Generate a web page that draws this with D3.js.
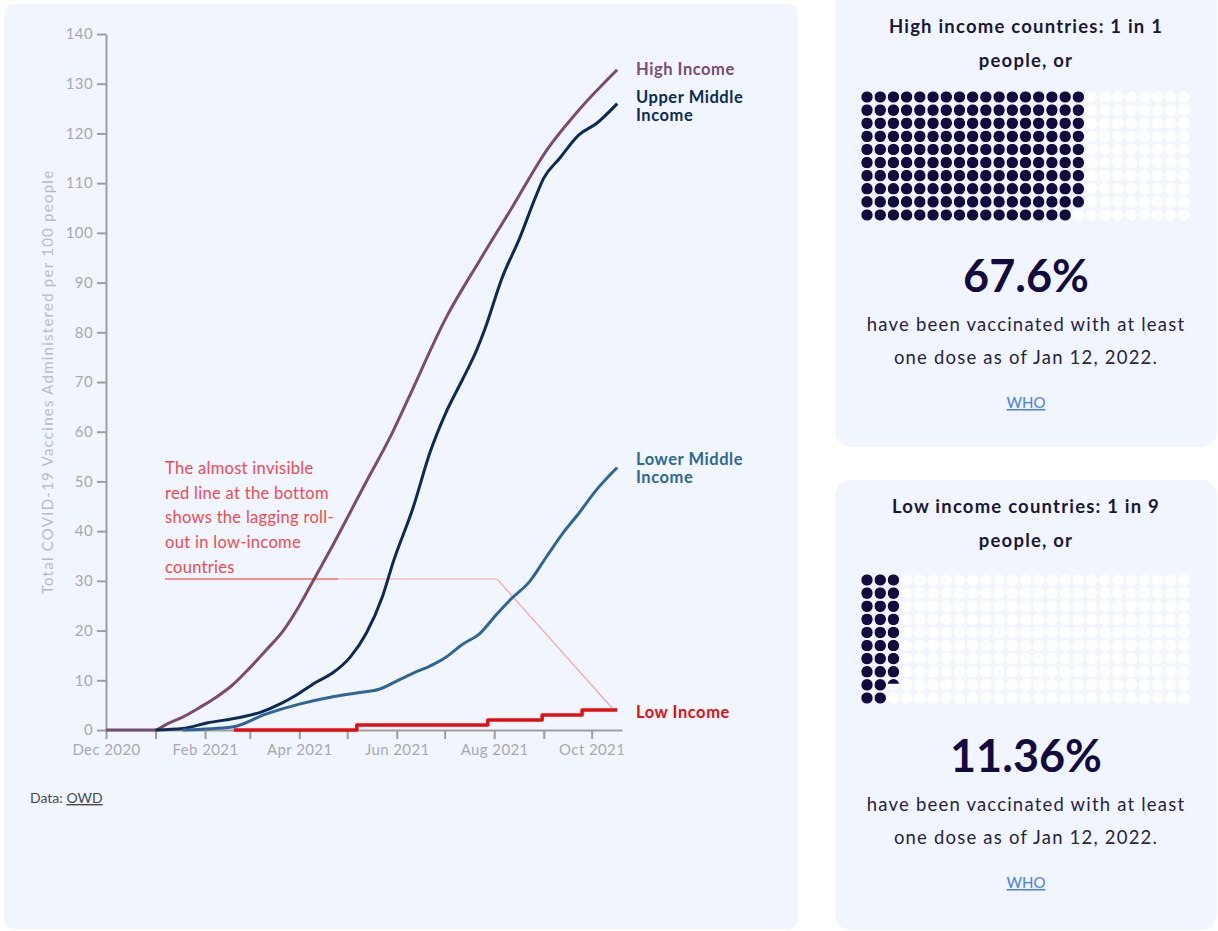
<!DOCTYPE html>
<html>
<head>
<meta charset="utf-8">
<script src="https://cdn.jsdelivr.net/npm/d3@7"></script>
<style>
  body { margin: 0; background: #fff; font-family: Lato, sans-serif; }
  svg { display: block; }
</style>
</head>
<body>
<div id="chart"></div>
<script>
// --- data (per 100 people) ---
const highIncome = [
  ["2020-12-01", 0], ["2021-01-01", 0], ["2021-01-08", 1.2], ["2021-01-18", 2.6],
  ["2021-01-29", 4.6], ["2021-02-08", 6.6], ["2021-02-18", 9], ["2021-03-01", 12.5],
  ["2021-03-11", 16], ["2021-03-22", 20], ["2021-04-01", 25], ["2021-04-09", 29.6],
  ["2021-04-20", 36], ["2021-05-13", 50], ["2021-05-28", 59], ["2021-06-08", 66.5],
  ["2021-07-02", 83], ["2021-07-23", 94.5], ["2021-08-12", 105], ["2021-09-03", 116.7],
  ["2021-09-23", 124.7], ["2021-10-17", 132.8]
];
const upperMiddle = [
  ["2021-01-01", 0], ["2021-01-18", 0.3], ["2021-02-02", 1.4], ["2021-02-24", 2.6],
  ["2021-03-08", 3.6], ["2021-03-21", 5.4], ["2021-04-01", 7.4], ["2021-04-12", 9.7],
  ["2021-04-22", 11.5], ["2021-05-03", 14.7], ["2021-05-13", 19.5], ["2021-05-23", 26.8],
  ["2021-05-30", 34], ["2021-06-11", 44.5], ["2021-06-22", 56], ["2021-07-02", 64],
  ["2021-07-12", 70.4], ["2021-07-21", 76.4], ["2021-07-26", 80.5], ["2021-08-06", 91],
  ["2021-08-17", 99], ["2021-08-27", 107.3], ["2021-09-01", 111], ["2021-09-11", 115],
  ["2021-09-23", 119.7], ["2021-10-04", 122], ["2021-10-17", 126]
];
const lowerMiddle = [
  ["2021-01-18", 0], ["2021-02-18", 0.6], ["2021-03-11", 3.2], ["2021-04-01", 5.2],
  ["2021-04-22", 6.7], ["2021-05-10", 7.6], ["2021-05-21", 8.2], ["2021-05-31", 9.7],
  ["2021-06-11", 11.4], ["2021-06-22", 12.9], ["2021-07-02", 14.7], ["2021-07-12", 17.2],
  ["2021-07-23", 19.4], ["2021-08-02", 23.1], ["2021-08-12", 26.5], ["2021-08-23", 29.8],
  ["2021-09-02", 34.5], ["2021-09-13", 39.6], ["2021-09-23", 43.6], ["2021-10-04", 48.3],
  ["2021-10-17", 52.8]
];
const lowIncome = [
  ["2021-02-19", 0], ["2021-05-07", 1], ["2021-07-28", 2], ["2021-08-31", 3],
  ["2021-09-25", 4], ["2021-10-17", 4]
];
const seriesNames = ["High Income", "Upper Middle Income", "Lower Middle Income", "Low Income"];
const seriesColors = ["#7b4b72", "#0d2a55", "#2f6696", "#e10f12"];
const yTicks = [0, 10, 20, 30, 40, 50, 60, 70, 80, 90, 100, 110, 120, 130, 140];

const annotationLines = ["The almost invisible", "red line at the bottom", "shows the lagging roll-", "out in low-income", "countries"];

const cardTitles = [["High income countries: 1 in 1", "people, or"], ["Low income countries: 1 in 9", "people, or"]];
const cardPercents = [67.6, 11.36];
const cardPercentLabels = ["67.6%", "11.36%"];
const cardNote = ["have been vaccinated with at least", "one dose as of Jan 12, 2022."];

const W = 1218, H = 931;
const parse = d3.timeParse("%Y-%m-%d");
const svg = d3.select("#chart").append("svg").attr("width", W).attr("height", H);
const panelFill = "#f1f6fe";

// panels
svg.append("rect").attr("x", 4).attr("y", 4).attr("width", 794).attr("height", 925).attr("rx", 10).attr("fill", panelFill);
svg.append("rect").attr("x", 835).attr("y", -14).attr("width", 382).attr("height", 461).attr("rx", 16).attr("fill", panelFill);
svg.append("rect").attr("x", 835).attr("y", 480).attr("width", 382).attr("height", 450).attr("rx", 16).attr("fill", panelFill);

// --- line chart ---
const x = d3.scaleTime().domain([parse("2020-12-01"), parse("2021-10-20")]).range([106, 622]);
const y = d3.scaleLinear().domain([0, 140]).range([730, 34]);
const axisColor = "#9d9d9d", tickText = "#a7a9ad";

const yAxis = svg.append("g").attr("transform", "translate(106,0)")
  .call(d3.axisLeft(y).tickValues(yTicks).tickSize(9).tickSizeOuter(0).tickPadding(4));
const xAxis = svg.append("g").attr("transform", "translate(0,730)")
  .call(d3.axisBottom(x).ticks(d3.timeMonth.every(1)).tickSize(9).tickSizeOuter(0).tickPadding(5)
    .tickFormat(d => d.getMonth() % 2 === 1 ? d3.timeFormat("%b %Y")(d) : ""));
[xAxis, yAxis].forEach(g => {
  g.select(".domain").attr("stroke", axisColor).attr("stroke-width", 2);
  g.selectAll(".tick line").attr("stroke", axisColor).attr("stroke-width", 2);
  g.selectAll(".tick text").attr("fill", tickText).style("font-family", "Lato")
    .style("font-size", "15px").style("letter-spacing", "0.4px");
});

svg.append("text")
  .attr("transform", "translate(53,382) rotate(-90)")
  .attr("text-anchor", "middle")
  .attr("fill", "#b7bbc2")
  .style("font-size", "15px")
  .style("letter-spacing", "1.25px")
  .text("Total COVID-19 Vaccines Administered per 100 people");

// annotation connector
svg.append("polyline")
  .attr("points", [[165, 579], [497, 579], [612, 708]].map(p => p.join(",")).join(" "))
  .attr("fill", "none").attr("stroke", "#f4a3a6").attr("stroke-width", 1.2);
svg.append("line").attr("x1", 165).attr("x2", 338).attr("y1", 579).attr("y2", 579)
  .attr("stroke", "#f07a80").attr("stroke-width", 1.5);

const allSeries = [highIncome, upperMiddle, lowerMiddle, lowIncome];
allSeries.forEach((s, i) => {
  const line = d3.line()
    .x(d => x(parse(d[0])))
    .y(d => y(d[1]))
    .curve(i === 3 ? d3.curveStepAfter : d3.curveMonotoneX);
  svg.append("path")
    .datum(s)
    .attr("d", line)
    .attr("fill", "none")
    .attr("stroke", seriesColors[i])
    .attr("stroke-width", i === 3 ? 3.5 : 3)
    .attr("stroke-linejoin", "round");
});

// series labels
const labelSpecs = [
  { lines: ["High Income"], y: 75 },
  { lines: ["Upper Middle", "Income"], y: 103 },
  { lines: ["Lower Middle", "Income"], y: 465 },
  { lines: ["Low Income"], y: 718 }
];
labelSpecs.forEach((spec, i) => {
  const t = svg.append("text").attr("x", 636).attr("y", spec.y)
    .attr("fill", seriesColors[i]).style("font-weight", 700).style("font-size", "16.5px")
    .style("letter-spacing", "0.55px");
  spec.lines.forEach((ln, j) => t.append("tspan").attr("x", 636).attr("dy", j ? 18 : 0).text(ln));
});

// annotation text
const ann = svg.append("text").attr("fill", "#f04a50").style("font-size", "16.5px").style("letter-spacing", "0.3px");
annotationLines.forEach((ln, j) => ann.append("tspan").attr("x", 165).attr("y", 474 + j * 24.7).text(ln));

// source
const src = svg.append("text").attr("x", 30).attr("y", 803).attr("fill", "#4a4a4a").style("font-size", "14px");
src.append("tspan").text("Data: ");
src.append("tspan").attr("text-decoration", "underline").text("OWD");

// --- waffle cards ---
const cols = 25, rows = 10;
const cardTops = [0, 480];
const dotDark = "#130b40";
const defs = svg.append("defs");
cardTops.forEach((top, c) => {
  const g = svg.append("g");
  const cx = 1026;
  cardTitles[c].forEach((ln, j) => {
    g.append("text").attr("x", cx).attr("y", top + 33 + j * 34).attr("text-anchor", "middle")
      .attr("fill", "#1b1638").style("font-weight", 700).style("font-size", "18.5px")
      .style("letter-spacing", "1.2px").text(ln);
  });
  const filled = cardPercents[c] / 100 * cols * rows;
  const gx = d3.scaleLinear().domain([0, cols - 1]).range([867, 1184]);
  const gy = d3.scaleLinear().domain([0, rows - 1]).range([top + 97 + (c ? 3 : 0), top + 215 + (c ? 3 : 0)]);
  const r = 5.8;
  const cells = d3.range(cols * rows).map(i => ({ col: Math.floor(i / rows), row: i % rows, f: Math.max(0, Math.min(1, filled - i)) }));
  g.selectAll(null).data(cells).enter().append("circle")
    .attr("cx", d => gx(d.col)).attr("cy", d => gy(d.row)).attr("r", r)
    .attr("fill", "#ffffff");
  cells.filter(d => d.f > 0).forEach((d, k) => {
    const id = "clip" + c + "_" + k;
    defs.append("clipPath").attr("id", id).append("rect")
      .attr("x", gx(d.col) - r).attr("y", gy(d.row) - r).attr("width", 2 * r).attr("height", 2 * r * d.f);
    g.append("circle").attr("cx", gx(d.col)).attr("cy", gy(d.row)).attr("r", r)
      .attr("fill", dotDark).attr("clip-path", `url(#${id})`);
  });
  const py = top + 292;
  g.append("text").attr("x", cx).attr("y", py).attr("text-anchor", "middle")
    .attr("fill", dotDark).style("font-weight", 700).style("font-size", "45px").text(cardPercentLabels[c]);
  cardNote.forEach((ln, j) => {
    g.append("text").attr("x", cx).attr("y", py + 39 + j * 33).attr("text-anchor", "middle")
      .attr("fill", "#29243f").style("font-size", "18.5px").style("letter-spacing", "1.2px").text(ln);
  });
  g.append("text").attr("x", cx).attr("y", py + 116).attr("text-anchor", "middle")
    .attr("fill", "#4a7df2").attr("text-decoration", "underline").style("font-size", "15px").text("WHO");
});
</script>
</body>
</html>
